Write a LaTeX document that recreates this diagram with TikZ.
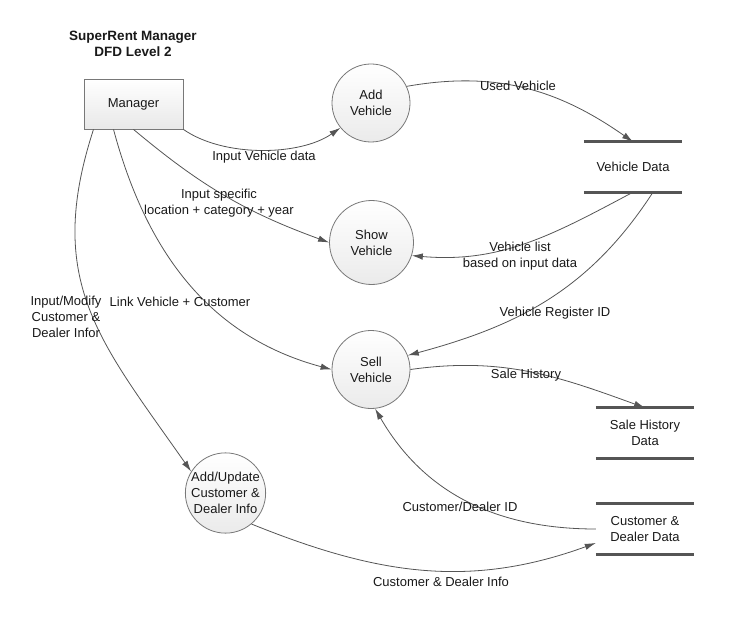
\documentclass[tikz,border=0pt]{standalone}
\usepackage{fontspec}
\setmainfont{Liberation Sans}
\usetikzlibrary{positioning,arrows.meta}
\definecolor{linegray}{RGB}{85,85,85}
\definecolor{rimgray}{RGB}{120,120,120}
\definecolor{textgray}{RGB}{25,25,25}
\tikzset{
  flowarrow/.style={-{Latex[length=11pt,width=6.5pt]}, draw=linegray, line width=0.8pt},
  process/.style={draw=rimgray, circle, line width=0.8pt, top color=white, bottom color=black!8, minimum size=78pt, inner sep=0pt, align=center},
  entity/.style={draw=rimgray, line width=0.8pt, top color=white, bottom color=black!9, minimum width=99pt, minimum height=50pt, align=center},
  datastore/.style={minimum width=98pt, minimum height=50pt, align=center},
  storeline/.style={draw=linegray, line width=3pt},
  flowlabel/.style={align=center, inner sep=1pt}
}

\begin{document}
\begin{tikzpicture}[x=1pt, y=1pt, every node/.style={font=\fontsize{13}{16}\selectfont, text=textgray}]
  \useasboundingbox (0,0) rectangle (746,-636);
  \node[align=center, font=\fontsize{13.5}{16}\selectfont\bfseries] (title) at (133,-44) {SuperRent Manager\\DFD Level 2};

  \node[entity] (mgr) at (133.5,-104) {Manager};
  \node[process] (addv) at (371,-103) {Add\\Vehicle};
  \node[process, minimum size=84pt] (showv) at (371.5,-242.5) {Show\\Vehicle};
  \node[process] (sellv) at (371,-369.5) {Sell\\Vehicle};
  \node[process] (addu) at (225.5,-493) {Add/Update\\Customer \&\\Dealer Info};

  \node[datastore] (vd) at (633,-167) {Vehicle Data};
  \node[datastore] (shd) at (645,-433) {Sale History\\Data};
  \node[datastore] (cdd) at (645,-529) {Customer \&\\Dealer Data};
  \draw[storeline] (vd.north west) -- (vd.north east);
  \draw[storeline] (vd.south west) -- (vd.south east);
  \draw[storeline] (shd.north west) -- (shd.north east);
  \draw[storeline] (shd.south west) -- (shd.south east);
  \draw[storeline] (cdd.north west) -- (cdd.north east);
  \draw[storeline] (cdd.south west) -- (cdd.south east);

  % flows
  \draw[flowarrow] (mgr.south east) to[out=-35, in=215, looseness=0.8] (addv.219);
  \draw[flowarrow] (addv.25) to[out=10, in=145] (vd.north);
  \draw[flowarrow] (mgr.south) to[out=-40, in=160] (showv.west);
  \draw[flowarrow] (vd.south) to[out=208, in=-5] (showv.-18);
  \draw[flowarrow] ([xshift=20pt]vd.south) to[out=-123, in=15] (sellv.21);
  \draw[flowarrow] ([xshift=-20pt]mgr.south) to[out=-75, in=165] (sellv.west);
  \draw[flowarrow] ([xshift=-40pt]mgr.south) to[out=-108, in=125, looseness=1.15] (addu.148);
  \draw[flowarrow] (sellv.0) to[out=8, in=160] (shd.north);
  \draw[flowarrow] (cdd.west) to[out=180, in=-60] (sellv.-84);
  \draw[flowarrow] (addu.-50) to[out=-22, in=200] ([yshift=-14pt]cdd.west);

  \node[flowlabel] (lblinput) at (264,-157) {Input Vehicle data};
  \node[flowlabel] (lblused) at (518,-86) {Used Vehicle};
  \node[flowlabel] (lblspecific) at (219,-203) {Input specific\\location + category + year};
  \node[flowlabel] (lbllist) at (520,-256) {Vehicle list\\based on input data};
  \node[flowlabel] (lblregister) at (555,-313) {Vehicle Register ID};
  \node[flowlabel] (lbllink) at (180,-302) {Link Vehicle + Customer};
  \node[flowlabel] (lblmodify) at (66,-317) {Input/Modify\\Customer \&\\Dealer Infor};
  \node[flowlabel] (lblsale) at (526,-375) {Sale History};
  \node[flowlabel] (lblcustid) at (460,-507) {Customer/Dealer ID};
  \node[flowlabel] (lblinfo) at (441,-582) {Customer \& Dealer Info};
\end{tikzpicture}
\end{document}
